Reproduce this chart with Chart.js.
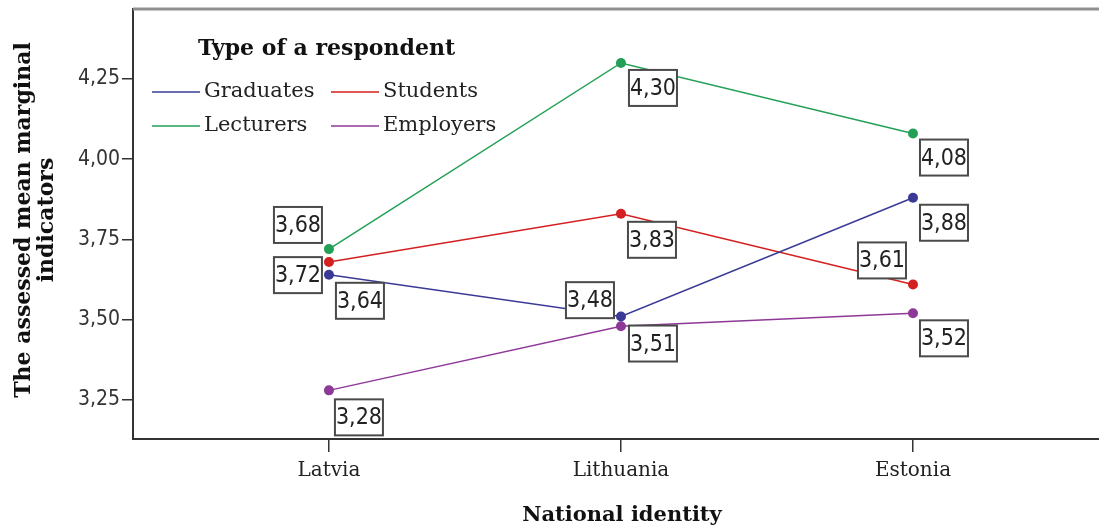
<!DOCTYPE html>
<html>
<head>
<meta charset="utf-8">
<script src="https://cdn.jsdelivr.net/npm/chart.js@4.4.1/dist/chart.umd.min.js"></script>
<style>
  html, body { margin: 0; padding: 0; background: #fff; }
</style>
</head>
<body>
<canvas id="chart" width="1099" height="530"></canvas>
<script>
// data
const categories = ['Latvia', 'Lithuania', 'Estonia'];
const seriesNames = ['Graduates', 'Students', 'Lecturers', 'Employers'];
const graduates = [3.64, 3.51, 3.88];
const students = [3.68, 3.83, 3.61];
const lecturers = [3.72, 4.30, 4.08];
const employers = [3.28, 3.48, 3.52];
const yTicks = [3.25, 3.50, 3.75, 4.00, 4.25];

const colors = ['#3a3a96', '#d42020', '#22a055', '#8e3898'];

// where each value box sits relative to its point (px), SPSS-style
const labelOffsets = [
  [[31, 26], [32, 27], [31, 25]],
  [[-31, -37], [31, 26], [-31, -24]],
  [[-31, 26], [32, 25], [31, 24]],
  [[30, 27], [-31, -26], [31, 25]],
];

const serif = '"DejaVu Serif", serif';
const narrow = '"Liberation Sans Narrow", "DejaVu Sans Condensed", sans-serif';
const fmt = (v) => v.toFixed(2).replace('.', ',');

const series = [graduates, students, lecturers, employers];

// scales reserve room for edge labels; we want the plot box fixed
const noPad = (s) => {
  s.paddingTop = 0; s.paddingBottom = 0; s.paddingLeft = 0; s.paddingRight = 0;
};

const overlay = {
  id: 'overlay',
  afterDatasetsDraw(chart) {
    const { ctx } = chart;
    ctx.save();
    // value boxes
    ctx.font = '23px ' + narrow;
    ctx.textAlign = 'center';
    ctx.textBaseline = 'middle';
    chart.data.datasets.forEach((ds, di) => {
      const meta = chart.getDatasetMeta(di);
      meta.data.forEach((pt, i) => {
        const [dx, dy] = labelOffsets[di][i];
        const cx = pt.x + dx, cy = pt.y + dy;
        ctx.fillStyle = '#fff';
        ctx.fillRect(cx - 24, cy - 18, 48, 36);
        ctx.strokeStyle = '#4a4a4a';
        ctx.lineWidth = 2;
        ctx.strokeRect(cx - 24, cy - 18, 48, 36);
        ctx.fillStyle = '#222';
        ctx.fillText(fmt(ds.data[i].y), cx, cy + 1);
      });
    });
    ctx.restore();
  },
  afterDraw(chart) {
    const { ctx, chartArea } = chart;
    ctx.save();
    // top frame line
    ctx.strokeStyle = '#8f8f8f';
    ctx.lineWidth = 3;
    ctx.beginPath();
    ctx.moveTo(chartArea.left, chartArea.top);
    ctx.lineTo(chartArea.right, chartArea.top);
    ctx.stroke();

    // legend
    ctx.fillStyle = '#111';
    ctx.font = 'bold 22px ' + serif;
    ctx.textAlign = 'left';
    ctx.textBaseline = 'middle';
    ctx.fillText('Type of a respondent', 198, 49);
    ctx.font = '21px ' + serif;
    const cols = [152, 331];
    const rows = [92, 126];
    chart.data.datasets.forEach((ds, i) => {
      const x = cols[i % 2], y = rows[Math.floor(i / 2)];
      ctx.strokeStyle = ds.borderColor;
      ctx.lineWidth = 1.5;
      ctx.beginPath();
      ctx.moveTo(x, y);
      ctx.lineTo(x + 48, y);
      ctx.stroke();
      ctx.fillStyle = '#222';
      ctx.fillText(ds.label, x + 52, y);
    });

    // axis titles
    ctx.fillStyle = '#111';
    ctx.font = 'bold 21px ' + serif;
    ctx.textAlign = 'center';
    ctx.fillText('National identity', 622, 516);
    ctx.font = 'bold 22px ' + serif;
    ctx.translate(36, 220);
    ctx.rotate(-Math.PI / 2);
    ctx.fillText('The assessed mean marginal', 0, -12);
    ctx.fillText('indicators', 0, 11);
    ctx.restore();
  },
};

new Chart(document.getElementById('chart'), {
  type: 'line',
  data: {
    datasets: series.map((vals, si) => ({
      label: seriesNames[si],
      data: vals.map((v, i) => ({ x: i, y: v })),
      borderColor: colors[si],
      backgroundColor: colors[si],
      borderWidth: 1.5,
      pointRadius: 5,
      pointBorderWidth: 0,
      pointBackgroundColor: colors[si],
      tension: 0,
    })),
  },
  options: {
    responsive: false,
    animation: false,
    devicePixelRatio: 1,
    layout: { autoPadding: false, padding: { top: 9, left: 0, right: 0, bottom: 0 } },
    plugins: { legend: { display: false }, tooltip: { enabled: false } },
    scales: {
      x: {
        type: 'linear',
        min: -0.671,
        max: 2.637,
        afterBuildTicks: (s) => { s.ticks = categories.map((c, i) => ({ value: i })); },
        afterFit: (s) => { s.height = 91; noPad(s); },
        ticks: {
          callback: (v) => categories[v],
          font: { family: serif, size: 20 },
          color: '#222',
          padding: 7,
          maxRotation: 0,
        },
        grid: { drawOnChartArea: false, drawTicks: true, tickLength: 13, color: '#333', lineWidth: 1.5 },
        border: { display: true, color: '#333', width: 2 },
      },
      y: {
        min: 3.1285,
        max: 4.468,
        afterBuildTicks: (s) => { s.ticks = yTicks.map((v) => ({ value: v })); },
        afterFit: (s) => { s.width = 133; noPad(s); },
        ticks: {
          callback: (v) => fmt(v),
          font: { family: narrow, size: 21 },
          color: '#333',
          padding: 2,
        },
        grid: { drawOnChartArea: false, drawTicks: true, tickLength: 11, color: '#333', lineWidth: 1.5 },
        border: { display: true, color: '#333', width: 2 },
      },
    },
  },
  plugins: [overlay],
});
</script>
</body>
</html>
